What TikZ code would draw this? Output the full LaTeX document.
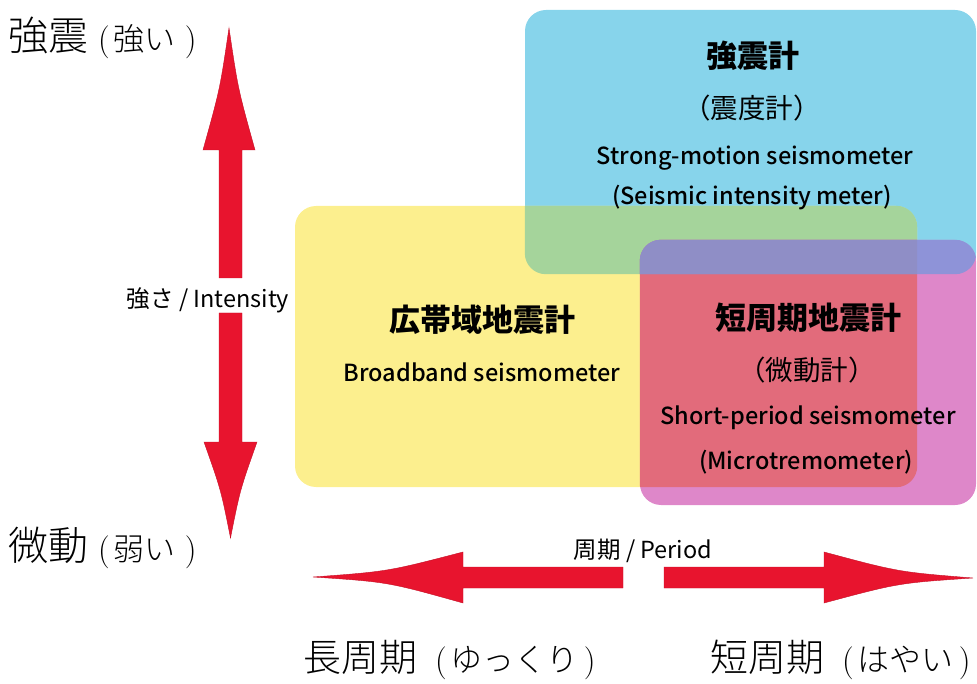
\documentclass[tikz,border=0pt]{standalone}
\usepackage{fontspec}
\newfontfamily\cjk{Noto Sans CJK JP}
\IfFontExistsTF{Noto Sans CJK JP Light}{\newfontfamily\cjkl{Noto Sans CJK JP Light}}{\newfontfamily\cjkl{Noto Sans CJK JP}}
\IfFontExistsTF{Noto Sans CJK JP Medium}{\newfontfamily\cjkm{Noto Sans CJK JP Medium}}{\newfontfamily\cjkm{Noto Sans CJK JP Bold}}
\definecolor{cblue}{HTML}{87D4EB}
\definecolor{cyellow}{HTML}{FCEF8E}
\definecolor{cpink}{HTML}{DE87C9}
\definecolor{cgreen}{HTML}{A5D49B}
\definecolor{cred}{HTML}{E26B7B}
\definecolor{cpurple}{HTML}{8F8EC6}
\definecolor{cbp}{HTML}{8E93D8}
\definecolor{arrowred}{HTML}{E8142E}
\newcommand{\biglab}[6]{{\cjkl\fontsize{#3}{#3}\selectfont #1}\hspace{#5}{\fontsize{33}{33}\selectfont(}\hspace{4pt}{\cjkl\fontsize{#4}{#4}\selectfont #2}\hspace{#6}{\fontsize{33}{33}\selectfont)}}
\tikzset{
  box/.style={rectangle, rounded corners=21pt, inner sep=0pt},
  jtitle/.style={inner sep=0pt, font={\cjk\bfseries\fontsize{31}{31}\selectfont}},
  jsub/.style={inner sep=0pt, font={\cjk\fontsize{27.5}{27.5}\selectfont}},
  etext/.style={inner sep=0pt, font={\cjkm\fontsize{23.5}{23.5}\selectfont}},
  axislab/.style={inner sep=0pt, font={\cjk\fontsize{23.5}{23.5}\selectfont}},
  arrowshape/.style={fill=arrowred, draw=arrowred!85!black, line width=0.4pt}
}
\begin{document}
\begin{tikzpicture}[x=1pt,y=-1pt]
\useasboundingbox (0,0) rectangle (977,684);
% boxes
\node[box, fill=cblue, minimum width=451pt, minimum height=264pt] (blue) at (750.5,142) {};
\node[box, fill=cyellow, minimum width=622pt, minimum height=281pt] (yellow) at (606,346.5) {};
\begin{scope}
  \clip[rounded corners=21pt] (blue.north west) rectangle (blue.south east);
  \fill[cgreen, rounded corners=21pt] (yellow.north west) rectangle (yellow.south east);
\end{scope}
\node[box, fill=cpink, minimum width=336pt, minimum height=265pt] (pink) at (808,372.5) {};
\begin{scope}
  \clip[rounded corners=21pt] (pink.north west) rectangle (pink.south east);
  \fill[cred, rounded corners=21pt] (yellow.north west) rectangle (yellow.south east);
  \fill[cbp, rounded corners=21pt] (blue.north west) rectangle (blue.south east);
  \clip[rounded corners=21pt] (blue.north west) rectangle (blue.south east);
  \fill[cpurple, rounded corners=21pt] (yellow.north west) rectangle (yellow.south east);
\end{scope}
% box texts
\node[jtitle] (b1) at (753,56) {強震計};
\node[jsub] (b2) at (752,108) {（震度計）};
\node[etext] (b3) at (755,158) {Strong-motion seismometer};
\node[etext] (b4) at (752,198) {(Seismic intensity meter)};
\node[jtitle] (y1) at (482,320) {広帯域地震計};
\node[etext] (y2) at (482,372) {Broadband seismometer};
\node[jtitle] (p1) at (808,318) {短周期地震計};
\node[jsub] (p2) at (807,370) {（微動計）};
\node[etext] (p3) at (808,418) {Short-period seismometer};
\node[etext] (p4) at (806,462) {(Microtremometer)};
% vertical arrow
\fill[arrowshape] (219,278) -- (219,150) -- (203,150) .. controls (220,89) .. (229,28) .. controls (238,89) .. (255,150) -- (242,150) -- (242,278) -- cycle;
\fill[arrowshape] (219,313) -- (219,442) -- (204,442) .. controls (221,490) .. (230.5,538) .. controls (240,490) .. (257,442) -- (242,442) -- (242,313) -- cycle;
\node[axislab] (ilab) at (208,300) {強さ / Intensity};
% horizontal arrow
\fill[arrowshape] (623,567) -- (463,567) -- (463,552) .. controls (388,571.5) .. (313,577) .. controls (388,582) .. (463,603) -- (463,588) -- (623,588) -- cycle;
\fill[arrowshape] (664,567) -- (824,567) -- (824,552) .. controls (898.5,572) .. (973,578) .. controls (898.5,583) .. (824,603) -- (824,588) -- (664,588) -- cycle;
\node[axislab] (plab) at (643,551) {周期 / Period};
% big labels
\node[inner sep=0pt, anchor=west] (strong) at (8,38) {\biglab{強震}{強い}{40}{31}{10pt}{9pt}};
\node[inner sep=0pt, anchor=west] (weak) at (8,548) {\biglab{微動}{弱い}{40}{31}{10pt}{9pt}};
\node[inner sep=0pt, anchor=west] (long) at (303,660) {\biglab{長周期}{ゆっくり}{38}{32}{18pt}{5pt}};
\node[inner sep=0pt, anchor=west] (short) at (710,660) {\biglab{短周期}{はやい}{38}{32}{18pt}{5pt}};
\end{tikzpicture}
\end{document}
